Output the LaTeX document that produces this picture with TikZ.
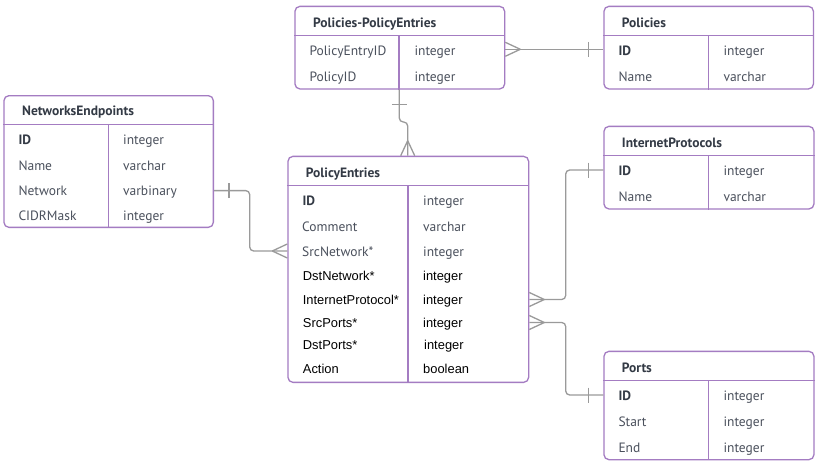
\documentclass[tikz,border=0pt]{standalone}
\usepackage{fontspec}
\setmainfont{PT Sans}
\newfontfamily\arialf{Liberation Sans}
\definecolor{erpurple}{HTML}{A47CC2}
\definecolor{ergray}{HTML}{9A9A9A}
\definecolor{ertext}{HTML}{4A505C}
\definecolor{ertitle}{HTML}{333A45}
\begin{document}
\begin{tikzpicture}[x=1pt,y=-1pt,
 tbl/.style={draw=erpurple, line width=1.3pt, rounded corners=5pt, inner sep=0pt, anchor=north west, fill=white},
 sep/.style={draw=erpurple, line width=1.3pt},
 conn/.style={draw=ergray, line width=1.3pt, rounded corners=4pt},
 ttl/.style={anchor=base west, inner sep=0pt, font=\fontsize{13.5}{15}\selectfont\bfseries, text=ertitle},
 fld/.style={anchor=base west, inner sep=0pt, font=\fontsize{13.5}{15}\selectfont, text=ertext},
 key/.style={anchor=base west, inner sep=0pt, font=\fontsize{13.5}{15}\selectfont\bfseries, text=ertitle},
 afld/.style={anchor=base west, inner sep=0pt, font=\arialf\fontsize{12.9}{15}\selectfont, text=black},
 crow/.pic={\draw[conn] (-15,0) -- (0,7) (-15,0) -- (0,-7);},
 onebar/.pic={\draw[conn] (-15,-7.5) -- (-15,7.5);}
]
\fill[white] (0,0) rectangle (822,464);
\useasboundingbox (0,0) rectangle (822,464);

% ---------- Policies-PolicyEntries
\node[tbl, minimum width=209.7pt, minimum height=82.6pt] (ppe) at (294.3,5.7) {};
\draw[sep] (ppe.west |- 0,35.7) -- (ppe.east |- 0,35.7);
\draw[sep] (399,35.7) -- (ppe.south -| 399,0);
\node[ttl] (ppe-t) at (313,27.2) {Policies-PolicyEntries};
\node[fld] (ppe-a1) at (309.3,55.2) {PolicyEntryID};
\node[fld] (ppe-b1) at (414.3,55.2) {integer};
\node[fld] (ppe-a2) at (309.3,81.2) {PolicyID};
\node[fld] (ppe-b2) at (414.3,81.2) {integer};

% ---------- Policies
\node[tbl, minimum width=209.5pt, minimum height=82.6pt] (pol) at (603.3,5.7) {};
\draw[sep] (pol.west |- 0,35.7) -- (pol.east |- 0,35.7);
\draw[sep] (708.3,35.7) -- (pol.south -| 708.3,0);
\node[ttl] (pol-t) at (621.7,27.2) {Policies};
\node[key] (pol-a1) at (618.3,55.2) {ID};
\node[fld] (pol-b1) at (723.3,55.2) {integer};
\node[fld] (pol-a2) at (618.3,81.2) {Name};
\node[fld] (pol-b2) at (723.3,81.2) {varchar};

% ---------- NetworksEndpoints
\node[tbl, minimum width=209.4pt, minimum height=131.7pt] (ne) at (3.3,95) {};
\draw[sep] (ne.west |- 0,124.7) -- (ne.east |- 0,124.7);
\draw[sep] (108.3,124.7) -- (ne.south -| 108.3,0);
\node[ttl] (ne-t) at (22,115.2) {NetworksEndpoints};
\node[key] (ne-a1) at (18.3,144.5) {ID};
\node[fld] (ne-b1) at (123,144.5) {integer};
\node[fld] (ne-a2) at (18.3,170.5) {Name};
\node[fld] (ne-b2) at (123,170.5) {varchar};
\node[fld] (ne-a3) at (18.3,195.5) {Network};
\node[fld] (ne-b3) at (123,195.5) {varbinary};
\node[fld] (ne-a4) at (18.3,220.5) {CIDRMask};
\node[fld] (ne-b4) at (123,220.5) {integer};

% ---------- PolicyEntries
\node[tbl, minimum width=240.7pt, minimum height=226pt] (pe) at (287.3,155.7) {};
\draw[sep] (pe.west |- 0,185.7) -- (pe.east |- 0,185.7);
\draw[sep] (408,185.7) -- (pe.south -| 408,0);
\node[ttl] (pe-t) at (305.7,177.2) {PolicyEntries};
\node[key] (pe-a1) at (302.3,205.5) {ID};
\node[fld] (pe-b1) at (423,205.5) {integer};
\node[fld] (pe-a2) at (302,231.2) {Comment};
\node[fld] (pe-b2) at (423,231.2) {varchar};
\node[fld] (pe-a3) at (302,256.8) {SrcNetwork*};
\node[fld] (pe-b3) at (423,256.8) {integer};
\node[afld] (pe-a4) at (302.7,280.8) {DstNetwork*};
\node[afld] (pe-b4) at (423,280.8) {integer};
\node[afld] (pe-a5) at (302.7,304.1) {InternetProtocol*};
\node[afld] (pe-b5) at (423,304.1) {integer};
\node[afld] (pe-a6) at (302.7,327.5) {SrcPorts*};
\node[afld] (pe-b6) at (423,327.5) {integer};
\node[afld] (pe-a7) at (302.7,349.1) {DstPorts*};
\node[afld] (pe-b7) at (424,349.1) {integer};
\node[afld] (pe-a8) at (302.7,373.1) {Action};
\node[afld] (pe-b8) at (423,373.1) {boolean};

% ---------- InternetProtocols
\node[tbl, minimum width=210pt, minimum height=82.6pt] (ip) at (603.3,125.7) {};
\draw[sep] (ip.west |- 0,155.7) -- (ip.east |- 0,155.7);
\draw[sep] (708.3,155.7) -- (ip.south -| 708.3,0);
\node[ttl] (ip-t) at (621.7,147.8) {InternetProtocols};
\node[key] (ip-a1) at (618.3,175.5) {ID};
\node[fld] (ip-b1) at (723.3,175.5) {integer};
\node[fld] (ip-a2) at (618.3,201.2) {Name};
\node[fld] (ip-b2) at (723.3,201.2) {varchar};

% ---------- Ports
\node[tbl, minimum width=210pt, minimum height=108.3pt] (ports) at (603.3,350.7) {};
\draw[sep] (ports.west |- 0,380.7) -- (ports.east |- 0,380.7);
\draw[sep] (708.3,380.7) -- (ports.south -| 708.3,0);
\node[ttl] (ports-t) at (621.7,372.8) {Ports};
\node[key] (ports-a1) at (618.3,400.5) {ID};
\node[fld] (ports-b1) at (723.3,400.5) {integer};
\node[fld] (ports-a2) at (618.3,426.2) {Start};
\node[fld] (ports-b2) at (723.3,426.2) {integer};
\node[fld] (ports-a3) at (618.3,452.2) {End};
\node[fld] (ports-b3) at (723.3,452.2) {integer};

% ---------- connector helper coordinates
\coordinate (y1) at (0,49.3);
\coordinate (x2a) at (399.3,0);
\coordinate (j2) at (407.7,122);
\coordinate (x2b) at (407.7,0);
\coordinate (yne) at (0,190.6);
\coordinate (j3) at (249.7,251);
\coordinate (ype3) at (0,251);
\coordinate (ype4) at (0,299.5);
\coordinate (j4) at (565.7,170);
\coordinate (ype5) at (0,322.5);
\coordinate (j5) at (565.7,395);

% ---------- connectors
\draw[conn] (ppe.east |- y1) -- (pol.west |- y1);
\pic[rotate=180] at (ppe.east |- y1) {crow};
\pic at (pol.west |- y1) {onebar};

\draw[conn] (ppe.south -| x2a) |- (j2) -- (pe.north -| x2b);
\pic[rotate=90] at (ppe.south -| x2a) {onebar};
\pic[rotate=-90] at (pe.north -| x2b) {crow};

\draw[conn] (ne.east |- yne) -| (j3) -- (pe.west |- ype3);
\pic[rotate=180] at (ne.east |- yne) {onebar};
\pic at (pe.west |- ype3) {crow};

\draw[conn] (pe.east |- ype4) -| (j4) -- (ip.west |- j4);
\pic[rotate=180] at (pe.east |- ype4) {crow};
\pic at (ip.west |- j4) {onebar};

\draw[conn] (pe.east |- ype5) -| (j5) -- (ports.west |- j5);
\pic[rotate=180] at (pe.east |- ype5) {crow};
\pic at (ports.west |- j5) {onebar};
\end{tikzpicture}
\end{document}
